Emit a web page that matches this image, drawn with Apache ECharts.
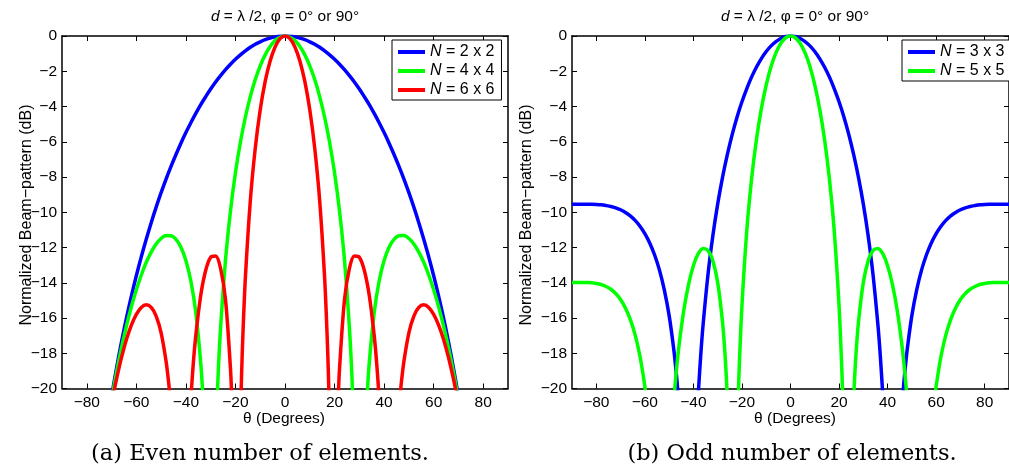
<!DOCTYPE html>
<html>
<head>
<meta charset="utf-8">
<script src="https://cdn.jsdelivr.net/npm/echarts@6/dist/echarts.min.js"></script>
<style>
  html, body { margin: 0; padding: 0; background: #fff; }
  #chart { width: 1009px; height: 469px; }
</style>
</head>
<body>
<div id="chart"></div>
<script>
// tick positions
const xTicks = [-80, -60, -40, -20, 0, 20, 40, 60, 80]
const yTicks = [0, -2, -4, -6, -8, -10, -12, -14, -16, -18, -20]

// (a) even number of elements, [theta (deg), dB], '-' = gap (below -20 dB)
const evenN2 = [[-72, -22.29], [-70, -20.48], [-68, -18.85], [-66, -17.37], [-64, -16.01], [-62, -14.76], [-60, -13.60], [-58, -12.53], [-56, -11.53], [-54, -10.59], [-52, -9.71], [-50, -8.89], [-48, -8.12], [-46, -7.40], [-44, -6.72], [-42, -6.08], [-40, -5.48], [-38, -4.92], [-36, -4.39], [-34, -3.89], [-32, -3.44], [-30, -3.01], [-28, -2.61], [-26, -2.25], [-24, -1.91], [-22, -1.60], [-20, -1.32], [-18, -1.07], [-16, -0.84], [-14, -0.64], [-12, -0.47], [-10, -0.33], [-8, -0.21], [-6, -0.12], [-4, -0.05], [-2, -0.01], [0, 0], [2, -0.01], [4, -0.05], [6, -0.12], [8, -0.21], [10, -0.33], [12, -0.47], [14, -0.64], [16, -0.84], [18, -1.07], [20, -1.32], [22, -1.60], [24, -1.91], [26, -2.25], [28, -2.61], [30, -3.01], [32, -3.44], [34, -3.89], [36, -4.39], [38, -4.92], [40, -5.48], [42, -6.08], [44, -6.72], [46, -7.40], [48, -8.12], [50, -8.89], [52, -9.71], [54, -10.59], [56, -11.53], [58, -12.53], [60, -13.60], [62, -14.76], [64, -16.01], [66, -17.37], [68, -18.85], [70, -20.48], [72, -22.29]]

const evenN4 = [[-72, -22.39], [-70, -20.64], [-68, -19.08], [-66, -17.69], [-64, -16.46], [-62, -15.36], [-60, -14.40], [-58, -13.56], [-56, -12.84], [-54, -12.26], [-52, -11.80], [-50, -11.49], [-48, -11.32], [-46, -11.33], [-44, -11.54], [-42, -11.98], [-40, -12.74], [-38, -13.90], [-36, -15.69], [-34, -18.56], [-33, -20.76],
  [-30, '-'],
  [-28, -22.99], [-27, -19.26], [-26, -16.56], [-24, -12.70], [-22, -9.92], [-20, -7.76], [-18, -6.03], [-16, -4.61], [-14, -3.44], [-12, -2.47], [-10, -1.69], [-8, -1.07], [-6, -0.60], [-4, -0.26], [-2, -0.07], [0, 0], [2, -0.07], [4, -0.26], [6, -0.60], [8, -1.07], [10, -1.69], [12, -2.47], [14, -3.44], [16, -4.61], [18, -6.03], [20, -7.76], [22, -9.92], [24, -12.70], [26, -16.56], [27, -19.26], [28, -22.99],
  [30, '-'],
  [33, -20.76], [34, -18.56], [36, -15.69], [38, -13.90], [40, -12.74], [42, -11.98], [44, -11.54], [46, -11.33], [48, -11.32], [50, -11.49], [52, -11.80], [54, -12.26], [56, -12.84], [58, -13.56], [60, -14.40], [62, -15.36], [64, -16.46], [66, -17.69], [68, -19.08], [70, -20.64], [72, -22.39]]

const evenN6 = [[-69, -20.16], [-68, -19.47], [-66, -18.25], [-64, -17.22], [-62, -16.40], [-60, -15.79], [-58, -15.40], [-56, -15.25], [-54, -15.40], [-52, -15.89], [-50, -16.84], [-48, -18.45], [-47, -19.61], [-46.5, -20.32],
  [-42, '-'],
  [-38, -20.57], [-37, -18.56], [-36, -16.99], [-34, -14.71], [-32, -13.29], [-30, -12.55], [-28, -12.48], [-26, -13.18], [-24, -14.98], [-22, -18.88], [-21.5, -20.53],
  [-20, '-'],
  [-18, -21.81], [-17.5, -19.11], [-17, -16.98], [-16, -13.74], [-14, -9.35], [-12, -6.36], [-10, -4.19], [-8, -2.58], [-6, -1.42], [-4, -0.62], [-2, -0.15], [0, 0], [2, -0.15], [4, -0.62], [6, -1.42], [8, -2.58], [10, -4.19], [12, -6.36], [14, -9.35], [16, -13.74], [17, -16.98], [17.5, -19.11], [18, -21.81],
  [20, '-'],
  [21.5, -20.53], [22, -18.88], [24, -14.98], [26, -13.18], [28, -12.48], [30, -12.55], [32, -13.29], [34, -14.71], [36, -16.99], [37, -18.56], [38, -20.57],
  [42, '-'],
  [46.5, -20.32], [47, -19.61], [48, -18.45], [50, -16.84], [52, -15.89], [54, -15.40], [56, -15.25], [58, -15.40], [60, -15.79], [62, -16.40], [64, -17.22], [66, -18.25], [68, -19.47], [69, -20.16]]

// (b) odd number of elements
const oddN3 = [[-90, -9.54], [-88, -9.54], [-86, -9.54], [-84, -9.55], [-82, -9.55], [-80, -9.56], [-78, -9.58], [-76, -9.62], [-74, -9.67], [-72, -9.75], [-70, -9.86], [-68, -10.01], [-66, -10.20], [-64, -10.46], [-62, -10.79], [-60, -11.21], [-58, -11.74], [-56, -12.41], [-54, -13.27], [-52, -14.39], [-50, -15.85], [-48, -17.87], [-47, -19.20], [-46.5, -19.99], [-46, -20.86],
  [-42, '-'],
  [-38, -20.32], [-37, -18.16], [-36, -16.38], [-34, -13.55], [-32, -11.35], [-30, -9.54], [-28, -8.02], [-26, -6.72], [-24, -5.58], [-22, -4.59], [-20, -3.73], [-18, -2.98], [-16, -2.32], [-14, -1.76], [-12, -1.28], [-10, -0.88], [-8, -0.56], [-6, -0.32], [-4, -0.14], [-2, -0.03], [0, 0], [2, -0.03], [4, -0.14], [6, -0.32], [8, -0.56], [10, -0.88], [12, -1.28], [14, -1.76], [16, -2.32], [18, -2.98], [20, -3.73], [22, -4.59], [24, -5.58], [26, -6.72], [28, -8.02], [30, -9.54], [32, -11.35], [34, -13.55], [36, -16.38], [37, -18.16], [38, -20.32],
  [42, '-'],
  [46, -20.86], [46.5, -19.99], [47, -19.20], [48, -17.87], [50, -15.85], [52, -14.39], [54, -13.27], [56, -12.41], [58, -11.74], [60, -11.21], [62, -10.79], [64, -10.46], [66, -10.20], [68, -10.01], [70, -9.86], [72, -9.75], [74, -9.67], [76, -9.62], [78, -9.58], [80, -9.56], [82, -9.55], [84, -9.55], [86, -9.54], [88, -9.54], [90, -9.54]]

const oddN5 = [[-90, -13.98], [-88, -13.98], [-86, -13.98], [-84, -13.99], [-82, -14.00], [-80, -14.04], [-78, -14.10], [-76, -14.21], [-74, -14.37], [-72, -14.61], [-70, -14.95], [-68, -15.43], [-66, -16.08], [-64, -16.96], [-62, -18.17], [-60, -19.87], [-59, -21.01],
  [-53, '-'],
  [-48, -20.55], [-47, -18.97], [-46, -17.66], [-44, -15.60], [-42, -14.10], [-40, -13.03], [-38, -12.35], [-36, -12.05], [-34, -12.16], [-32, -12.75], [-30, -13.98], [-28, -16.23], [-27, -18.01], [-26.5, -19.17], [-26, -20.59],
  [-24, '-'],
  [-22, -22.93], [-21.5, -20.40], [-21, -18.39], [-20, -15.30], [-18, -11.03], [-16, -8.07], [-14, -5.85], [-12, -4.12], [-10, -2.78], [-8, -1.73], [-6, -0.96], [-4, -0.42], [-2, -0.10], [0, 0], [2, -0.10], [4, -0.42], [6, -0.96], [8, -1.73], [10, -2.78], [12, -4.12], [14, -5.85], [16, -8.07], [18, -11.03], [20, -15.30], [21, -18.39], [21.5, -20.40], [22, -22.93],
  [24, '-'],
  [26, -20.59], [26.5, -19.17], [27, -18.01], [28, -16.23], [30, -13.98], [32, -12.75], [34, -12.16], [36, -12.05], [38, -12.35], [40, -13.03], [42, -14.10], [44, -15.60], [46, -17.66], [47, -18.97], [48, -20.55],
  [53, '-'],
  [59, -21.01], [60, -19.87], [62, -18.17], [64, -16.96], [66, -16.08], [68, -15.43], [70, -14.95], [72, -14.61], [74, -14.37], [76, -14.21], [78, -14.10], [80, -14.04], [82, -14.00], [84, -13.99], [86, -13.98], [88, -13.98], [90, -13.98]]

const FONT = "'Liberation Sans', Arial, Helvetica, sans-serif"
const minus = (v) => String(v).replace('-', '\u2212')

const chart = echarts.init(document.getElementById('chart'))

const makeX = (gridIndex, position) => ({
  gridIndex,
  type: 'value',
  position,
  min: -90,
  max: 90,
  axisLine: { onZero: false, lineStyle: { color: '#000', width: 1.5 } },
  axisTick: { inside: true, length: 5, customValues: xTicks, lineStyle: { color: '#000', width: 1 } },
  axisLabel: {
    show: position === 'bottom',
    customValues: xTicks,
    formatter: minus,
    color: '#000',
    fontSize: 15.5,
    fontFamily: FONT,
    margin: 6,
  },
  splitLine: { show: false },
})

const makeY = (gridIndex, position) => ({
  gridIndex,
  type: 'value',
  position,
  min: -20,
  max: 0,
  interval: 2,
  axisLine: { onZero: false, lineStyle: { color: '#000', width: 1.5 } },
  axisTick: { inside: true, length: 5, lineStyle: { color: '#000', width: 1 } },
  axisLabel: {
    show: position === 'left',
    formatter: minus,
    color: '#000',
    fontSize: 15.5,
    fontFamily: FONT,
    margin: 5,
  },
  splitLine: { show: false },
})

const makeLegend = (left, names) => ({
  orient: 'vertical',
  left,
  top: 40,
  data: names,
  icon: 'rect',
  itemWidth: 27,
  itemHeight: 4,
  itemGap: 3,
  padding: [4, 7, 2, 6],
  borderColor: '#000',
  borderWidth: 1,
  borderRadius: 0,
  backgroundColor: '#fff',
  selectedMode: false,
  formatter: (name) => '{i|N}' + name.slice(1),
  textStyle: {
    fontSize: 16,
    lineHeight: 16,
    fontFamily: FONT,
    color: '#000',
    rich: {
      i: { fontStyle: 'italic', fontSize: 16, lineHeight: 16, fontFamily: FONT, color: '#000' },
    },
  },
})

const makeSeries = (name, data, color, axisIndex) => ({
  name,
  type: 'line',
  data,
  xAxisIndex: axisIndex,
  yAxisIndex: axisIndex,
  showSymbol: false,
  symbol: 'none',
  smooth: 0.3,
  connectNulls: false,
  clip: true,
  color,
  lineStyle: { color, width: 3.5 },
})

const text = (x, y, str, size, extra) => ({
  type: 'text',
  x,
  y,
  style: Object.assign({
    text: str,
    fontSize: size,
    fontFamily: FONT,
    fill: '#000',
    align: 'center',
    verticalAlign: 'middle',
  }, extra || {}),
})

const titleText = '{i|d} = \u03bb /2, \u03c6 = 0\u00b0 or 90\u00b0'
const titleRich = { rich: { i: { fontStyle: 'italic', fontSize: 15.5, fontFamily: FONT, fill: '#000' } } }
const yName = 'Normalized Beam\u2212pattern (dB)'
const capFont = { fontFamily: "'DejaVu Serif', 'Liberation Serif', serif" }

const option = {
  backgroundColor: '#fff',
  animation: false,
  grid: [
    { left: 62, top: 36, width: 446, height: 352.5 },
    { left: 572, top: 36, width: 446, height: 352.5 },
  ],
  xAxis: [makeX(0, 'bottom'), makeX(0, 'top'), makeX(1, 'bottom'), makeX(1, 'top')],
  yAxis: [makeY(0, 'left'), makeY(0, 'right'), makeY(1, 'left'), makeY(1, 'right')],
  legend: [
    makeLegend(392, ['N = 2 x 2', 'N = 4 x 4', 'N = 6 x 6']),
    makeLegend(902, ['N = 3 x 3', 'N = 5 x 5']),
  ],
  series: [
    makeSeries('N = 2 x 2', evenN2, '#0000ff', 0),
    makeSeries('N = 4 x 4', evenN4, '#00ff00', 0),
    makeSeries('N = 6 x 6', evenN6, '#ff0000', 0),
    makeSeries('N = 3 x 3', oddN3, '#0000ff', 2),
    makeSeries('N = 5 x 5', oddN5, '#00ff00', 2),
  ],
  graphic: [
    text(285, 17, titleText, 15.5, titleRich),
    text(795, 17, titleText, 15.5, titleRich),
    text(284, 419, '\u03b8 (Degrees)', 15.5),
    text(795, 419, '\u03b8 (Degrees)', 15.5),
    Object.assign(text(27, 215, yName, 16), { rotation: Math.PI / 2 }),
    Object.assign(text(527, 215, yName, 16), { rotation: Math.PI / 2 }),
    text(260, 454, '(a) Even number of elements.', 22.5, capFont),
    text(792, 454, '(b) Odd number of elements.', 22.5, capFont),
  ],
}

chart.setOption(option)
</script>
</body>
</html>
